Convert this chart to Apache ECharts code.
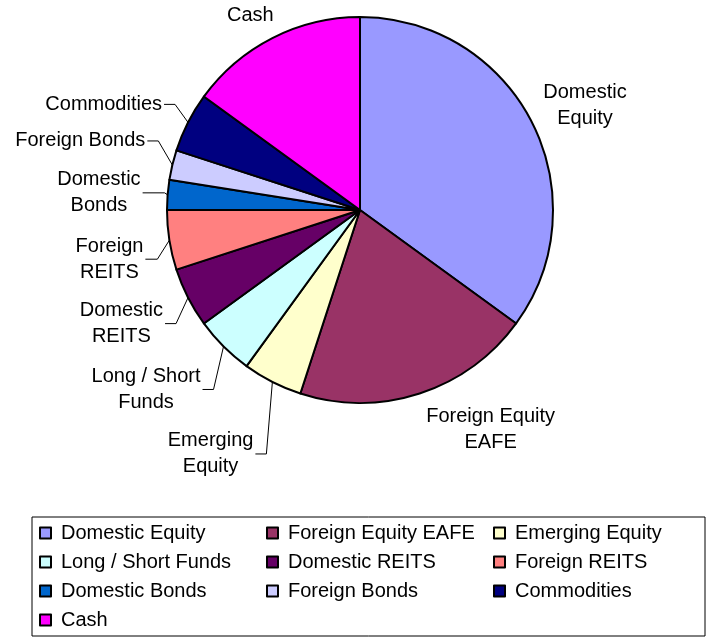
<!DOCTYPE html>
<html>
<head>
<meta charset="utf-8">
<script src="https://cdn.jsdelivr.net/npm/echarts@6/dist/echarts.min.js"></script>
<style>
  html, body { margin: 0; padding: 0; background: #fff; }
  #chart-container { width: 713px; height: 637px; }
</style>
</head>
<body>
<div id="chart-container"></div>
<script>
// asset classes and allocation (%)
var categories = ['Domestic Equity', 'Foreign Equity EAFE', 'Emerging Equity', 'Long / Short Funds',
    'Domestic REITS', 'Foreign REITS', 'Domestic Bonds', 'Foreign Bonds', 'Commodities', 'Cash'];
var allocation = [35, 20, 5, 5, 5, 5, 2.5, 2.5, 5, 15];
var labelText = ['Domestic\nEquity', 'Foreign Equity\nEAFE', 'Emerging\nEquity', 'Long / Short\nFunds',
    'Domestic\nREITS', 'Foreign\nREITS', 'Domestic\nBonds', 'Foreign Bonds', 'Commodities', 'Cash'];
var colors = ['#9999FF', '#993366', '#FFFFCC', '#CCFFFF', '#660066', '#FF8080', '#0066CC', '#CCCCFF', '#000080', '#FF00FF'];

// leader line layout per slice: offset of bend from slice edge, length of horizontal run (0 = no line)
var leader = [[53, -17, 0], [71, 36, 0], [-6, 72, 11], [-10, 43, 11], [-12, 26, 11],
    [-12, 19, 12], [-3, -2, 22], [-14, -24, 11], [-13, -18, 11], [-22, -23, 0]];

var cx = 360, cy = 210, R = 193;
var total = allocation.reduce(function (a, b) { return a + b; }, 0);

function edgePoint(i) {
    var s = 0;
    for (var k = 0; k < i; k++) s += allocation[k];
    var a = (s + allocation[i] / 2) / total * 2 * Math.PI;
    return [cx + R * Math.sin(a), cy - R * Math.cos(a)];
}

var font = 'Liberation Sans, Arial, sans-serif';

var myChart = echarts.init(document.getElementById('chart-container'));

var data = categories.map(function (name, i) {
    return {
        name: name,
        value: allocation[i],
        itemStyle: { color: colors[i] },
        labelLine: { show: leader[i][2] > 0 }
    };
});

var option = {
    animation: false,
    backgroundColor: '#fff',
    graphic: [{
        type: 'rect',
        shape: { x: 32, y: 517, width: 673, height: 119 },
        style: { fill: 'none', stroke: '#000', lineWidth: 1 }
    }],
    legend: {
        data: categories,
        orient: 'horizontal',
        left: 39,
        top: 521,
        width: 680,
        padding: 0,
        itemGap: 5,
        itemWidth: 11,
        itemHeight: 11,
        icon: 'rect',
        itemStyle: { borderColor: '#000', borderWidth: 2 },
        textStyle: {
            fontFamily: font,
            fontSize: 20,
            color: '#000',
            width: 200,
            lineHeight: 24,
            padding: [0, 0, 0, 5]
        }
    },
    series: [{
        type: 'pie',
        center: [cx, cy],
        radius: R,
        startAngle: 90,
        clockwise: true,
        avoidLabelOverlap: false,
        data: data,
        itemStyle: { borderColor: '#000', borderWidth: 2 },
        emphasis: { disabled: true },
        label: {
            show: true,
            position: 'outside',
            fontFamily: font,
            fontSize: 20,
            lineHeight: 26,
            color: '#000',
            formatter: function (p) { return labelText[p.dataIndex]; }
        },
        labelLine: {
            show: true,
            length: 10,
            length2: 10,
            lineStyle: { color: '#000', width: 1 }
        },
        labelLayout: function (params) {
            var i = params.dataIndex;
            var e = edgePoint(i);
            var l = leader[i];
            var w = params.labelRect.width;
            if (!l[2]) {
                return { x: e[0] + l[0], y: e[1] + l[1], align: 'center', verticalAlign: 'middle' };
            }
            var bend = [e[0] + l[0], e[1] + l[1]];
            var end = [bend[0] - l[2], bend[1]];
            return {
                x: end[0] - 2 - w / 2,
                y: end[1],
                align: 'center',
                verticalAlign: 'middle',
                labelLinePoints: [e, bend, end]
            };
        }
    }]
};

myChart.setOption(option);
</script>
</body>
</html>
